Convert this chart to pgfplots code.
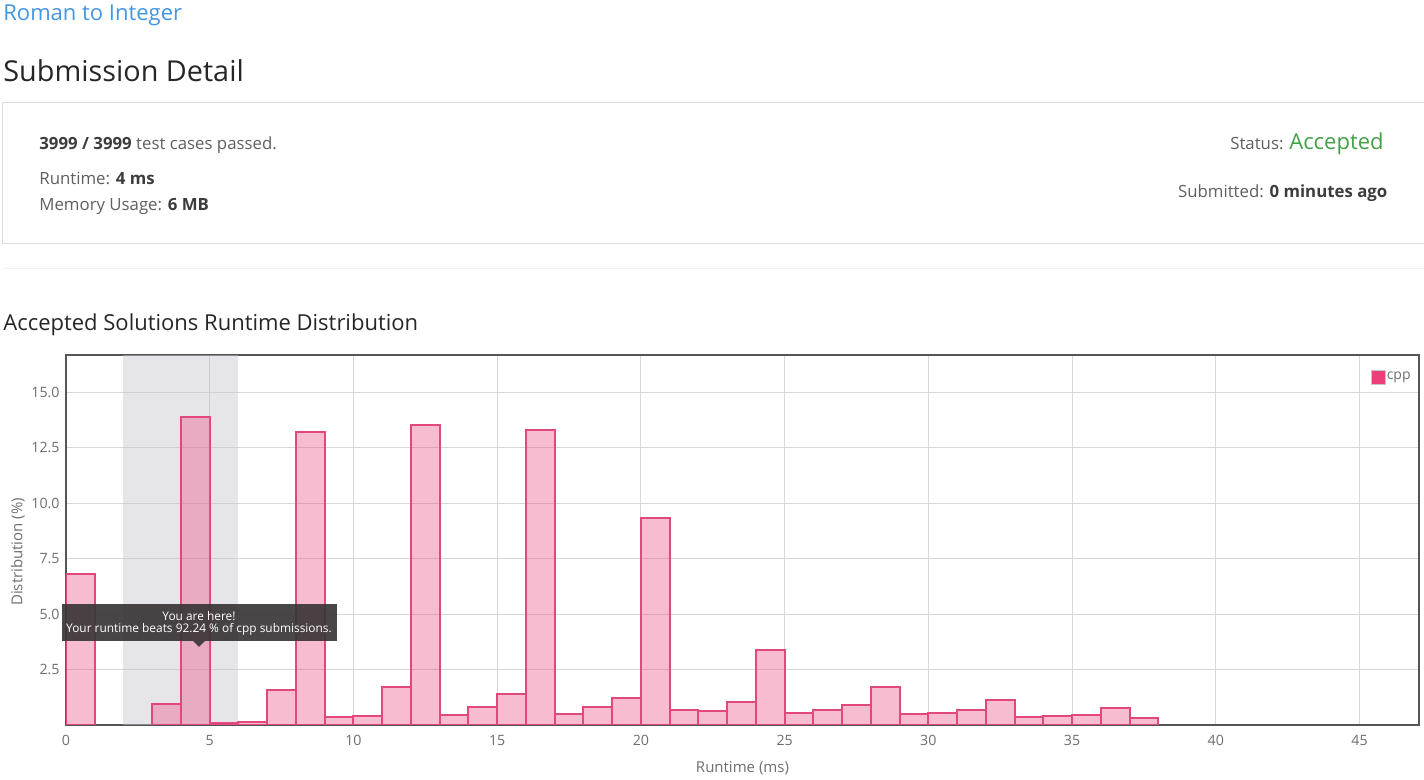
\documentclass[border=0pt]{standalone}
\usepackage{pgfplots}
\pgfplotsset{compat=1.18}
\usepackage{fontspec}
\setmainfont{Open Sans}
\newcommand\fs[1]{\fontsize{#1pt}{#1pt}\selectfont}
\definecolor{linkblue}{RGB}{66,150,226}
\definecolor{headc}{RGB}{38,38,38}
\definecolor{bodyc}{RGB}{95,95,95}
\definecolor{boldc}{RGB}{60,60,60}
\definecolor{accgreen}{RGB}{67,160,71}
\definecolor{boxline}{RGB}{221,221,221}
\definecolor{barpink}{RGB}{236,64,122}
\definecolor{baredge}{RGB}{226,72,125}
\definecolor{gridc}{RGB}{215,215,215}
\definecolor{framec}{RGB}{85,85,85}
\definecolor{tickc}{RGB}{110,110,110}
\definecolor{bandc}{RGB}{200,197,207}
\definecolor{tipc}{RGB}{58,54,56}
\begin{document}
\begin{tikzpicture}
\path[use as bounding box] (0,0) rectangle (712pt,390pt);
\begin{axis}[
  at={(33pt,27.5pt)}, anchor=south west, scale only axis,
  width=676.5pt, height=185pt,
  xmin=0, xmax=47.07, ymin=0, ymax=16.67,
  axis line style={draw=framec, line width=1.2pt},
  xtick={0,5,...,45}, ytick={2.5,5,7.5,10,12.5,15},
  major tick length=0pt,
  grid=major, grid style={draw=gridc, line width=0.5pt},
  /pgf/number format/assume math mode=true,
  yticklabel style={/pgf/number format/fixed, /pgf/number format/fixed zerofill, /pgf/number format/precision=1},
  ticklabel style={font=\fs{7.1}, text=tickc, inner sep=0pt},
  xticklabel style={anchor=center, yshift=-7.75pt},
  yticklabel style={anchor=east, xshift=-3pt},
  xlabel={Runtime (ms)}, ylabel={Distribution (\%)},
  label style={font=\fs{7.5}, text=tickc, inner sep=0pt},
  xlabel style={at={(axis description cs:0.5,0)}, anchor=center, yshift=-21.5pt},
  ylabel style={at={(axis description cs:-0.0355,0.468)}, anchor=center},
  legend style={at={(axis description cs:1,1)}, anchor=north east, draw=none, fill=none,
    font=\fs{7}, text=tickc, xshift=-3.5pt, yshift=-7.5pt, inner sep=0pt,
    nodes={inner sep=0.5pt}},
]
\fill[bandc, opacity=0.45] (axis cs:2,0) rectangle (axis cs:6,16.67);
\addplot[ybar, bar width=1, bar shift=0pt, fill=barpink, fill opacity=0.35,
  draw=baredge, line width=1pt,
  legend image code/.code={\draw[fill=barpink, draw=gray!45, line width=0.5pt, fill opacity=1] (0pt,-3.4pt) rectangle (6.8pt,3.4pt);}]
  coordinates {
  (0.5,6.80) (3.5,0.93) (4.5,13.87) (5.5,0.10) (6.5,0.15) (7.5,1.56)
  (8.5,13.20) (9.5,0.35) (10.5,0.40) (11.5,1.70) (12.5,13.51) (13.5,0.45)
  (14.5,0.81) (15.5,1.40) (16.5,13.29) (17.5,0.50) (18.5,0.82) (19.5,1.23)
  (20.5,9.32) (21.5,0.66) (22.5,0.64) (23.5,1.02) (24.5,3.39) (25.5,0.55)
  (26.5,0.68) (27.5,0.89) (28.5,1.70) (29.5,0.50) (30.5,0.54) (31.5,0.68)
  (32.5,1.14) (33.5,0.37) (34.5,0.39) (35.5,0.44) (36.5,0.77) (37.5,0.30)
  };
\addlegendentry{cpp}
\end{axis}
\begin{scope}[x=0.5pt,y=-0.5pt,shift={(0pt,390pt)}]
\node[anchor=base west, inner sep=0pt, text=linkblue, font=\fs{11}] at (3,20.7) {Roman to Integer};
\node[anchor=base west, inner sep=0pt, text=headc, font=\fs{14.4}] at (3,82) {Submission Detail};
\draw[boxline, line width=0.6pt] (1424,102.5) -- (2.7,102.5) -- (2.7,243.3) -- (1424,243.3);
\draw[gray!10, line width=0.5pt] (3,269) -- (1424,269);
\node[anchor=base west, inner sep=0pt, text=bodyc, font=\fs{8.4}] at (39,149.3) {\textcolor{boldc}{\bfseries 3999 / 3999} test cases passed.};
\node[anchor=base west, inner sep=0pt, text=bodyc, font=\fs{8.4}] at (39,185) {Runtime: \textcolor{boldc}{\bfseries 4 ms}};
\node[anchor=base west, inner sep=0pt, text=bodyc, font=\fs{8.4}] at (39,210.7) {Memory Usage: \textcolor{boldc}{\bfseries 6 MB}};
\node[anchor=base east, inner sep=0pt, text=bodyc, font=\fs{8.4}] at (1384,149.3) {Status: {\fs{11}\textcolor{accgreen}{Accepted}}};
\node[anchor=base east, inner sep=0pt, text=bodyc, font=\fs{8.4}] at (1387.7,197.3) {Submitted: \textcolor{boldc}{\bfseries 0 minutes ago}};
\node[anchor=base west, inner sep=0pt, text=headc, font=\fs{11}] at (3,330.7) {Accepted Solutions Runtime Distribution};
\fill[tipc, opacity=0.92] (62,604) rectangle (337,641);
\fill[tipc, opacity=0.92] (193,641) -- (205,641) -- (199,647) -- cycle;
\node[anchor=base, inner sep=0pt, text=white, font=\fs{5.95}] at (199,621) {You are here!};
\node[anchor=base, inner sep=0pt, text=white, font=\fs{5.95}] at (199,632.5) {Your runtime beats 92.24 \% of cpp submissions.};
\end{scope}
\end{tikzpicture}
\end{document}
